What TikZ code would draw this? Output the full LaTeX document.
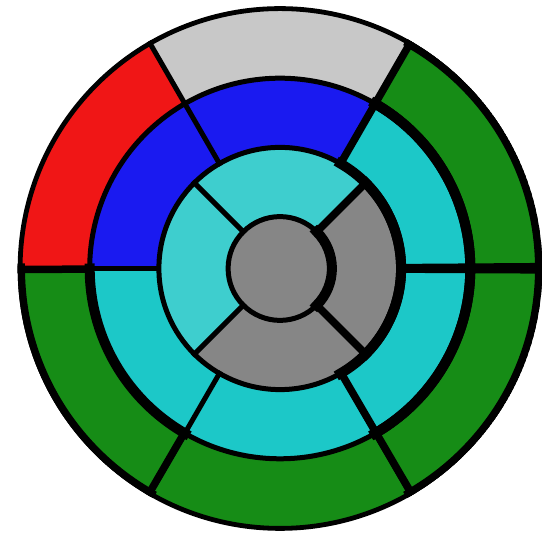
\documentclass[tikz,border=0pt]{standalone}
\definecolor{lgray}{RGB}{200,200,200}
\definecolor{segred}{RGB}{240,22,22}
\definecolor{seggreen}{RGB}{22,140,22}
\definecolor{segblue}{RGB}{26,26,240}
\definecolor{segcyan}{RGB}{28,200,200}
\definecolor{segcyanl}{RGB}{62,206,206}
\definecolor{seggray}{RGB}{134,134,134}
\newcommand{\bullseg}[5]{\fill[#1] (#2:#4) arc[start angle=#2, end angle=#3, radius=#4] -- (#3:#5) arc[start angle=#3, end angle=#2, radius=#5] -- cycle;}
\newcommand{\bullarc}[3]{\draw[boldarc] (#1:#3) arc[start angle=#1, end angle=#2, radius=#3];}
\newcommand{\bullrad}[3]{\draw[boldrad] (#1:#2) -- (#1:#3);}
\newcommand{\thinrad}[3]{\draw[thinline] (#1:#2) -- (#1:#3);}
\def\rA{260pt}
\def\rB{190.3pt}
\def\rC{121.1pt}
\def\rD{51.9pt}
\tikzset{
  thinline/.style={line width=5pt, line cap=rect},
  boldarc/.style={line width=10pt, line cap=rect},
  boldrad/.style={line width=7.5pt, line cap=rect}
}
\begin{document}
\begin{tikzpicture}
\useasboundingbox (0,0) rectangle (543pt,534pt);
\begin{scope}[shift={(280pt,265.5pt)}]
\coordinate (c) at (0,0);
\clip (c) circle[radius=262.3pt];
% basal ring
\bullseg{lgray}{60}{120}{\rB}{\rA}
\bullseg{segred}{120}{180}{\rB}{\rA}
\bullseg{seggreen}{180}{240}{\rB}{\rA}
\bullseg{seggreen}{240}{300}{\rB}{\rA}
\bullseg{seggreen}{300}{360}{\rB}{\rA}
\bullseg{seggreen}{0}{60}{\rB}{\rA}
% mid ring
\bullseg{segblue}{60}{120}{\rC}{\rB}
\bullseg{segblue}{120}{180}{\rC}{\rB}
\bullseg{segcyan}{180}{240}{\rC}{\rB}
\bullseg{segcyan}{240}{300}{\rC}{\rB}
\bullseg{segcyan}{300}{360}{\rC}{\rB}
\bullseg{segcyan}{0}{60}{\rC}{\rB}
% apical ring
\bullseg{segcyanl}{45}{135}{\rD}{\rC}
\bullseg{segcyanl}{135}{225}{\rD}{\rC}
\bullseg{seggray}{225}{315}{\rD}{\rC}
\bullseg{seggray}{315}{405}{\rD}{\rC}
% apex
\fill[seggray] (c) circle[radius=\rD];
% thin boundaries
\foreach \r in {\rA,\rB,\rC,\rD} {\draw[thinline] (c) circle[radius=\r];}
\foreach \a in {0,60,120,180,240,300} {\thinrad{\a}{\rC}{\rA}}
\foreach \a in {45,135,225,315} {\thinrad{\a}{\rD}{\rC}}
% bold segment 3
\bullarc{180}{240}{\rB} \bullarc{180}{240}{\rA}
\bullrad{180.2}{\rB}{\rA} \bullrad{239.8}{\rB}{\rA}
% bold segment 5
\bullarc{300}{360}{\rB} \bullarc{300}{360}{\rA}
\bullrad{300.3}{\rB}{\rA} \bullrad{359.7}{\rB}{\rA}
% bold segment 6
\bullarc{0}{60}{\rB} \bullarc{0}{60}{\rA}
\bullrad{0.4}{\rB}{\rA} \bullrad{60}{\rB}{\rA}
% bold segment 11
\bullarc{300}{360}{\rC} \bullarc{300}{360}{\rB}
\bullrad{300.3}{\rC}{\rB} \bullrad{359.7}{\rC}{\rB}
% bold segment 12
\bullarc{0}{60}{\rC} \bullarc{0}{60}{\rB}
\bullrad{0.4}{\rC}{\rB} \bullrad{60}{\rC}{\rB}
% bold segment 16
\bullarc{315}{405}{\rD} \bullarc{315}{405}{\rC}
\bullrad{315}{\rD}{\rC} \bullrad{45}{\rD}{\rC}
\end{scope}
\end{tikzpicture}
\end{document}
